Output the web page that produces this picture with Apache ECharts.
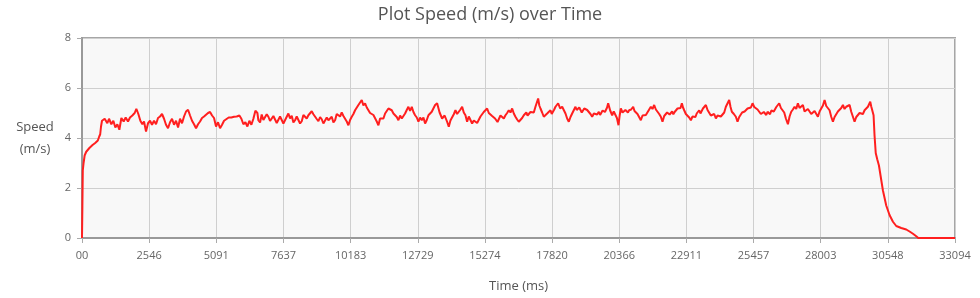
<!DOCTYPE html>
<html><head><meta charset="utf-8">
<script src="https://cdn.jsdelivr.net/npm/echarts@6/dist/echarts.min.js"></script>
<style>html,body{margin:0;padding:0;background:#fff}#c{width:980px;height:298px}</style>
</head><body><div id="c"></div>
<script>
const timeMs = [
0,15,30,60,100,160,220,280,340,400,
450,500,550,600,650,690,720,758,860,960,
1024,1112,1188,1264,1340,1416,1492,1580,1656,1744,
1820,1908,1997,2060,2136,2212,2288,2351,2427,2503,
2579,2654,2730,2806,2882,2958,3034,3110,3185,3261,
3337,3413,3489,3565,3641,3716,3792,3868,3944,4020,
4096,4171,4247,4323,4399,4475,4550,4626,4702,4778,
4854,4930,5005,5081,5157,5233,5309,5385,5460,5561,
5662,5764,5865,5966,6042,6118,6194,6270,6345,6421,
6497,6573,6649,6686,6750,6813,6876,6939,7003,7066,
7129,7192,7255,7318,7382,7445,7508,7571,7635,7698,
7761,7824,7887,7950,8014,8077,8140,8203,8267,8330,
8393,8456,8519,8582,8646,8709,8772,8835,8899,8962,
9025,9088,9151,9214,9278,9341,9404,9467,9531,9594,
9657,9720,9783,9846,9910,9973,10036,10099,10163,10226,
10289,10352,10415,10478,10542,10605,10668,10731,10795,10858,
10921,10984,11047,11110,11174,11237,11300,11363,11427,11490,
11553,11616,11679,11742,11806,11869,11932,11995,12059,12122,
12185,12248,12311,12374,12438,12501,12564,12627,12691,12754,
12817,12880,12943,13006,13070,13133,13196,13259,13323,13386,
13462,13556,13651,13746,13841,13904,13967,14030,14094,14157,
14220,14283,14347,14410,14473,14536,14599,14663,14726,14789,
14852,14915,14979,15042,15105,15168,15231,15294,15358,15421,
15484,15547,15610,15658,15705,15752,15800,15863,15926,15990,
16053,16116,16179,16243,16306,16369,16432,16495,16558,16622,
16685,16748,16796,16843,16890,16938,17001,17064,17127,17190,
17241,17292,17336,17380,17443,17506,17570,17633,17696,17759,
17806,17854,17901,17949,18000,18050,18126,18202,18265,18328,
18391,18454,18518,18581,18644,18707,18755,18802,18850,18897,
18945,18992,19039,19086,19150,19213,19276,19339,19403,19466,
19529,19592,19640,19687,19735,19782,19823,19864,19905,19946,
20022,20098,20158,20219,20278,20338,20382,20426,20490,20553,
20600,20647,20695,20742,20818,20894,20945,20995,21058,21122,
21185,21248,21311,21375,21438,21501,21564,21627,21690,21754,
21817,21880,21943,22006,22070,22133,22180,22227,22275,22322,
22370,22417,22465,22512,22575,22638,22689,22740,22784,22828,
22891,22954,23018,23081,23144,23207,23255,23302,23350,23397,
23444,23491,23539,23586,23650,23713,23776,23839,23902,23966,
24029,24092,24155,24219,24282,24345,24408,24471,24534,24585,
24635,24711,24787,24850,24914,24977,25024,25071,25119,25166,
25230,25293,25356,25419,25483,25546,25609,25672,25735,25798,
25846,25893,25941,25988,26036,26083,26131,26178,26225,26272,
26320,26367,26430,26494,26557,26620,26683,26760,26823,26886,
26949,27012,27075,27138,27201,27265,27328,27391,27454,27518,
27581,27644,27707,27771,27834,27897,27960,28023,28087,28150,
28213,28276,28339,28402,28466,28529,28592,28655,28718,28782,
28845,28908,28971,29035,29098,29161,29224,29287,29351,29414,
29477,29540,29603,29666,29730,29793,29837,29881,29919,29957,
30007,30044,30089,30146,30211,30271,30362,30487,30612,30742,
30867,31056,31246,31372,31501,31625,31701,33094];

const speed = [
0,1.3,2.7,3.0,3.3,3.45,3.5,3.6,3.62,3.72,
3.68,3.8,3.85,3.9,4.05,4.15,4.45,4.69,4.77,4.59,
4.77,4.55,4.69,4.42,4.55,4.33,4.80,4.66,4.82,4.66,
4.82,4.90,5.0,5.17,4.96,4.69,4.55,4.66,4.26,4.59,
4.69,4.53,4.69,4.55,4.80,4.86,4.96,4.77,4.53,4.39,
4.63,4.77,4.53,4.69,4.42,4.77,4.59,4.86,5.06,5.13,
4.90,4.69,4.55,4.39,4.55,4.66,4.80,4.86,4.93,5.0,
5.04,4.90,4.80,4.46,4.63,4.39,4.53,4.69,4.77,4.82,
4.82,4.85,4.86,4.90,4.77,4.55,4.63,4.46,4.69,4.53,
4.77,5.09,5.0,4.71,4.62,4.94,4.72,4.78,4.95,4.85,
4.68,4.71,4.88,4.81,4.60,4.65,4.86,4.78,4.58,4.65,
4.85,4.98,4.78,4.89,4.62,4.71,4.86,4.78,4.58,4.67,
4.92,4.85,4.78,4.91,4.96,5.07,4.95,4.89,4.76,4.67,
4.84,4.75,4.58,4.65,4.82,4.71,4.76,4.85,4.62,4.71,
4.96,4.91,4.86,5.02,4.88,4.81,4.66,4.51,4.72,4.85,
4.96,5.11,5.16,5.32,5.35,5.52,5.30,5.39,5.22,5.18,
5.00,5.05,4.92,4.85,4.66,4.51,4.78,4.85,4.78,4.98,
5.02,5.18,5.25,5.11,4.98,4.91,4.84,4.71,4.90,4.78,
4.86,4.98,5.12,5.25,5.08,5.25,5.04,4.91,4.82,4.65,
4.82,4.71,4.82,4.58,4.72,4.91,4.86,5.05,5.12,5.32,
5.39,5.02,4.78,4.90,4.65,4.45,4.70,4.78,4.95,5.11,
4.96,5.0,5.14,5.25,5.02,4.91,4.65,4.86,4.78,4.58,
4.70,4.78,4.60,4.65,4.86,4.91,5.04,5.11,5.18,5.00,
5.05,4.88,4.91,4.78,4.8,4.64,4.71,4.90,4.85,4.78,
4.91,5.00,5.11,5.02,5.18,4.98,4.85,4.74,4.65,4.58,
4.80,4.91,4.84,5.02,4.90,4.98,5.04,5.11,5.02,5.25,
5.30,5.58,5.30,5.18,5.02,4.85,4.90,4.98,4.92,5.11,
4.96,5.0,5.14,5.25,5.18,5.39,5.18,5.25,5.18,4.98,
4.78,4.65,4.84,4.98,5.06,5.25,5.12,5.05,5.22,5.18,
5.02,5.1,5.18,5.25,5.12,5.05,4.96,4.85,4.98,4.91,
4.94,5.05,4.92,5.0,5.10,5.18,5.04,5.1,5.22,5.39,
5.10,4.91,5.06,5.0,4.80,4.51,4.90,5.18,5.02,4.98,
5.12,5.2,5.02,5.11,5.14,5.25,5.08,5.11,4.96,4.91,
4.71,4.90,4.85,4.92,4.98,5.14,5.25,5.16,5.32,5.14,
5.11,4.96,4.85,4.65,4.88,4.91,5.02,5.08,4.94,4.98,
5.06,4.95,5.04,5.11,5.18,5.25,5.20,5.39,5.22,5.11,
4.96,4.91,4.82,4.71,4.86,4.91,4.84,4.98,5.06,5.11,
4.98,5.05,5.18,5.25,5.32,5.12,5.05,4.90,4.85,4.96,
4.78,4.90,4.98,4.86,4.78,5.02,5.25,5.30,5.52,5.24,
5.05,4.96,4.85,4.65,4.84,4.91,5.02,4.98,5.06,5.11,
5.18,5.25,5.22,5.39,5.24,5.32,5.14,5.05,4.96,4.91,
5.04,5.0,4.92,5.05,4.98,4.95,5.10,5.18,5.06,5.1,
5.24,5.32,5.39,5.20,5.25,5.02,4.78,4.55,4.86,5.05,
5.14,5.25,5.16,5.39,5.20,5.18,5.32,5.06,4.98,5.16,
5.11,4.96,4.91,5.08,5.05,4.85,5.06,5.18,5.30,5.52,
5.28,5.25,5.11,4.85,4.65,4.84,4.91,5.06,5.11,5.20,
5.32,5.16,5.25,5.18,5.32,5.05,4.85,4.65,4.84,4.91,
5.00,5.05,4.96,5.11,5.08,5.25,5.20,5.45,5.26,5.11,
4.91,4.1,3.4,3.15,2.9,2.5,1.9,1.3,0.92,0.65,
0.48,0.4,0.34,0.26,0.17,0.07,0,0];

const xTickLabels = ['00','2546','5091','7637','10183','12729','15274','17820','20366','22911','25457','28003','30548','33094'];
const xMax = 33094;
const xStep = xMax / 13;

const FONT = 'Open Sans';
const chart = echarts.init(document.getElementById('c'), null, {renderer: 'canvas'});
chart.setOption({
  animation: false,
  textStyle: {fontFamily: FONT},
  title: {
    text: 'Plot Speed (m/s) over Time',
    left: 'center', top: 1,
    textStyle: {fontFamily: FONT, fontSize: 18, fontWeight: 'normal', color: '#555'}
  },
  grid: {
    left: 82, right: 25, top: 38, height: 200,
    show: true, backgroundColor: '#f8f8f8', borderColor: '#a6a6a6', borderWidth: 2
  },
  xAxis: {
    type: 'value', min: 0, max: xMax, interval: xStep,
    name: 'Time (ms)', nameLocation: 'middle', nameGap: 42,
    nameTextStyle: {fontFamily: FONT, fontSize: 13, color: '#555'},
    axisLine: {lineStyle: {color: '#999', width: 2}},
    axisTick: {show: true, length: 5, lineStyle: {color: '#aaa'}},
    axisLabel: {
      fontFamily: FONT, fontSize: 11, color: '#666', margin: 12,
      showMinLabel: true, showMaxLabel: true,
      formatter: v => xTickLabels[Math.round(v / xStep)] ?? ''
    },
    splitLine: {show: true, lineStyle: {color: '#cfcfcf', width: 1}}
  },
  yAxis: {
    type: 'value', min: 0, max: 8, interval: 2,
    name: 'Speed\n(m/s)', nameLocation: 'middle', nameRotate: 0, nameGap: 47,
    nameTextStyle: {fontFamily: FONT, fontSize: 13, color: '#555', align: 'center', verticalAlign: 'middle', lineHeight: 22},
    axisLine: {show: true, lineStyle: {color: '#999', width: 2}},
    axisTick: {show: true, length: 5, lineStyle: {color: '#aaa'}},
    axisLabel: {fontFamily: FONT, fontSize: 11, color: '#666', margin: 11},
    splitLine: {show: true, lineStyle: {color: '#cfcfcf', width: 1}}
  },
  series: [{
    type: 'line',
    data: timeMs.map((t, i) => [t, speed[i]]),
    showSymbol: false,
    lineStyle: {color: '#ff1f1f', width: 2},
    itemStyle: {color: '#ff1f1f'}
  }]
});
</script>
</body></html>
